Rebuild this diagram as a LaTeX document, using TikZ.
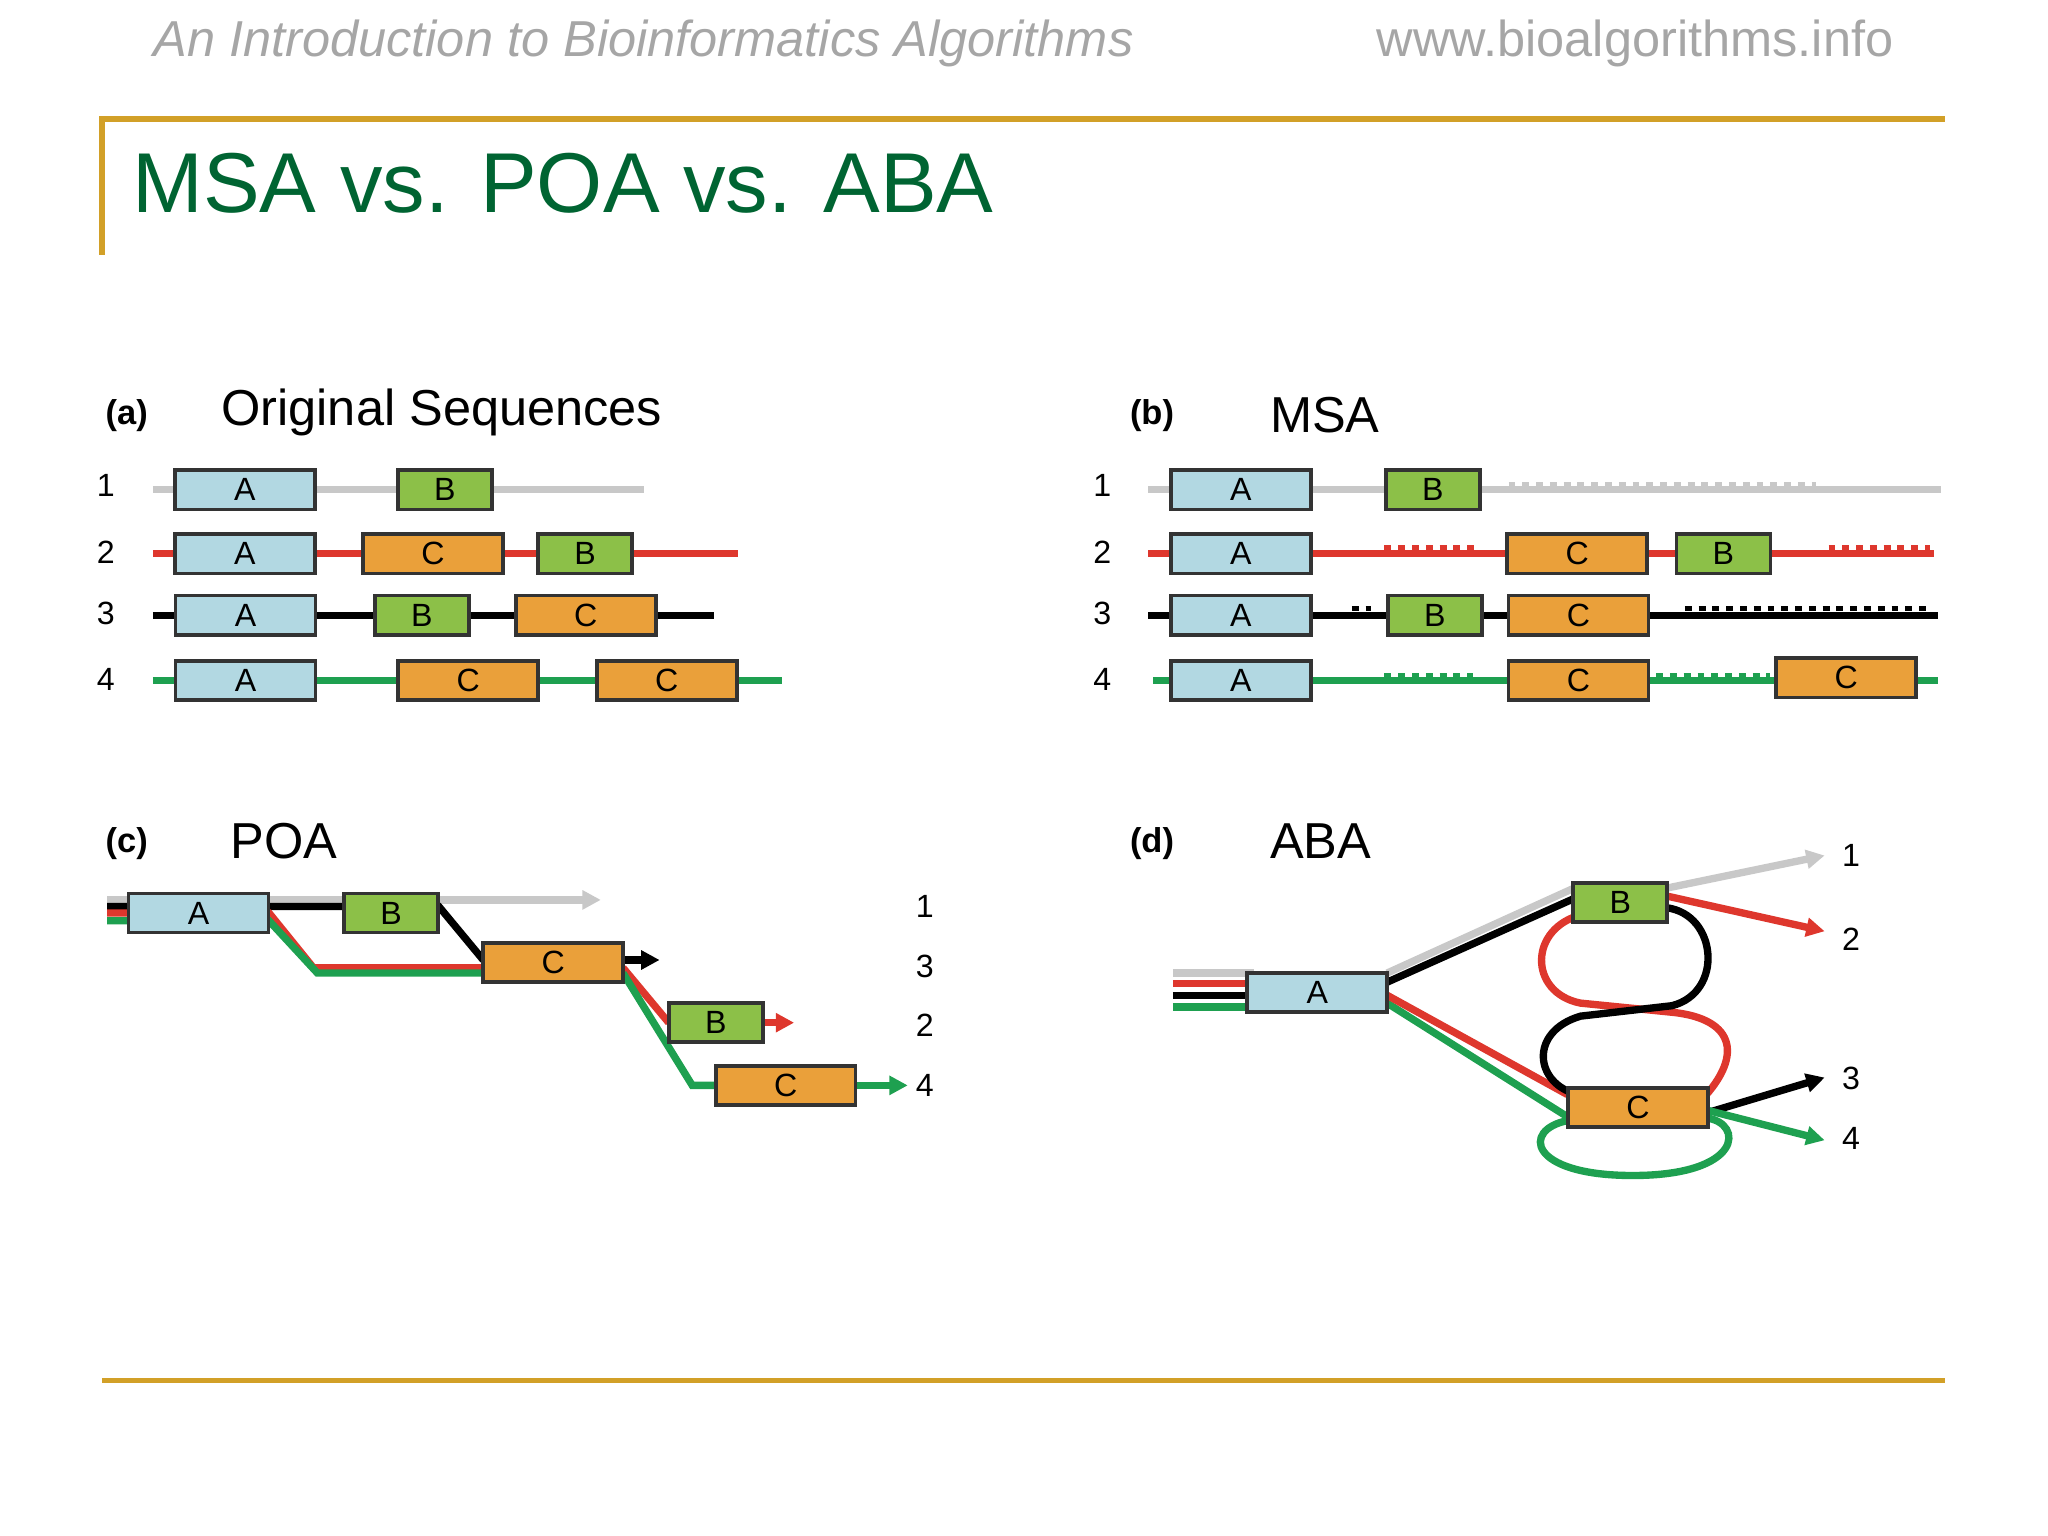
\documentclass[tikz,border=0pt]{standalone}
\usepackage{fontspec}
\setmainfont{Liberation Sans}
\usetikzlibrary{arrows.meta}
\definecolor{cA}{RGB}{178,216,226}
\definecolor{cB}{RGB}{140,192,72}
\definecolor{cC}{RGB}{234,160,58}
\definecolor{lr}{RGB}{222,55,45}
\definecolor{lg}{RGB}{30,160,80}
\definecolor{lgr}{RGB}{200,200,200}
\definecolor{ttl}{RGB}{0,100,50}
\definecolor{gold}{RGB}{210,160,40}
\tikzset{
 box/.style={draw=black!80,line width=0.8pt,minimum height=0.3cm,inner sep=0pt,font=\fontsize{7}{7}\selectfont},
 bA/.style={box,fill=cA,minimum width=1.07cm},
 bB/.style={box,fill=cB,minimum width=0.72cm},
 bC/.style={box,fill=cC,minimum width=1.07cm},
 ln/.style={line width=1.6pt},
 dt/.style={line width=1.2pt,dash pattern=on 1.5pt off 1.5pt},
 num/.style={font=\fontsize{7}{7}\selectfont},
 pl/.style={font=\bfseries\fontsize{7.5}{8}\selectfont},
 hd/.style={font=\fontsize{11}{11}\selectfont},
 ar/.style={-{Triangle[length=4pt,width=4pt]}}
}
\begin{document}
\begin{tikzpicture}[x=0.01cm,y=-0.01cm]
\useasboundingbox (0,0) rectangle (1568,1176);
% header
\node[anchor=west,text=black!35,font=\itshape\fontsize{11}{12}\selectfont] (h1) at (105,33) {An Introduction to Bioinformatics Algorithms};
\node[anchor=east,text=black!35,font=\fontsize{11}{12}\selectfont] (h2) at (1462,33) {www.bioalgorithms.info};
\draw[gold,line width=1.2pt] (78,195) -- (78,91) -- (1489,91);
\draw[gold,line width=1.2pt] (78,1057) -- (1489,1057);
\node[anchor=west,text=ttl,font=\fontsize{18.5}{19}\selectfont] (t) at (89,140) {MSA vs. POA vs. ABA};
% panel labels
\node[pl] (la) at (97,318) {(a)}; \node[hd,anchor=west] (ha) at (157,316) {Original Sequences};
\node[pl] (lb) at (882,318) {(b)}; \node[hd,anchor=west] (hb) at (960,318) {MSA};
\node[pl] (lc) at (97,646) {(c)}; \node[hd,anchor=west] (hc) at (164,644) {POA};
\node[pl] (ld) at (882,646) {(d)}; \node[hd,anchor=west] (hd) at (960,644) {ABA};
% (a)
\foreach \n/\y in {1/372,2/423,3/470,4/520}{\node[num] (an\n) at (81,\y) {\n}; \node[num] (bn\n) at (844,\y) {\n};}
\draw[ln,lgr] (117,375) -- (493,375);
\draw[ln,lr] (117,424) -- (565,424);
\draw[ln,black] (117,471) -- (547,471);
\draw[ln,lg] (117,521) -- (599,521);
\node[bA] (a1A) at (187.5,375) {A}; \node[bB] (a1B) at (340.5,375) {B};
\node[bA] (a2A) at (187.5,424) {A}; \node[bC] (a2C) at (331.5,424) {C}; \node[bB] (a2B) at (448,424) {B};
\node[bA] (a3A) at (188,471) {A}; \node[bB] (a3B) at (323,471) {B}; \node[bC] (a3C) at (448.5,471) {C};
\node[bA] (a4A) at (188,521) {A}; \node[bC] (a4C) at (358.5,521) {C}; \node[bC] (a4D) at (510.5,521) {C};
% (b)
\draw[ln,lgr] (879,375) -- (1486,375);
\draw[ln,lr] (879,424) -- (1481,424);
\draw[ln,black] (879,471) -- (1484,471);
\draw[ln,lg] (883,521) -- (1484,521);
\draw[dt,lgr] (1155,371) -- (1390,371);
\draw[dt,lr] (1060,419) -- (1130,419); \draw[dt,lr] (1400,419) -- (1478,419);
\draw[dt,black] (1035,466) -- (1050,466); \draw[dt,black] (1290,466) -- (1478,466);
\draw[dt,lg] (1060,517) -- (1128,517); \draw[dt,lg] (1268,517) -- (1355,517);
\node[bA] (b1A) at (950,375) {A}; \node[bB] (b1B) at (1097,375) {B};
\node[bA] (b2A) at (950,424) {A}; \node[bC] (b2C) at (1207.5,424) {C}; \node[bB] (b2B) at (1319.5,424) {B};
\node[bA] (b3A) at (950,471) {A}; \node[bB] (b3B) at (1098.5,471) {B}; \node[bC] (b3C) at (1208.5,471) {C};
\node[bA] (b4A) at (950,521) {A}; \node[bC] (b4C) at (1208.5,521) {C}; \node[bC] (b4D) at (1413.5,519) {C};
% (c)
\coordinate (c1) at (460,689); \coordinate (c3) at (505,735); \coordinate (c2) at (608,783); \coordinate (c4) at (695,831);
\draw[ln,lgr,ar] (82,689) -- (c1);
\draw[ln,black] (82,694) -- (263,694) -- (336,694) -- (370,735);
\draw[ln,black,ar] (477,735) -- (c3);
\draw[ln,lr] (82,699) -- (206,699) -- (240,741) -- (370,741);
\draw[ln,lr] (477,741) -- (512,783);
\draw[ln,lr,ar] (584,783) -- (c2);
\draw[ln,lg] (82,705) -- (206,705) -- (243,745) -- (370,745);
\draw[ln,lg] (477,745) -- (530,831) -- (548,831);
\draw[ln,lg,ar] (655,831) -- (c4);
\node[bA] (cA) at (152,699) {A}; \node[bB] (cB) at (299.5,699) {B};
\node[bC] (cC) at (423.5,737) {C}; \node[bB] (cB2) at (548,783) {B}; \node[bC] (cC2) at (601.5,831) {C};
\node[num] (cl1) at (708,694) {1}; \node[num] (cl3) at (708,740) {3};
\node[num] (cl2) at (708,785) {2}; \node[num] (cl4) at (708,831) {4};
% (d)
\coordinate (d1) at (1397,655); \coordinate (d2) at (1397,713); \coordinate (d3) at (1397,825); \coordinate (d4) at (1397,873);
\draw[ln,lgr] (898,745) -- (960,745);
\draw[ln,lgr] (1062,745) -- (1205,680);
\draw[ln,lgr,ar] (1276,680) -- (d1);
\draw[ln,lr] (898,753) -- (960,753);
\draw[ln,black] (898,762) -- (960,762);
\draw[ln,lg] (898,771) -- (960,771);
\draw[ln,lg] (1062,768) -- (1200,855);
\draw[ln,lr] (1062,762) -- (1200,838);
\draw[ln,black] (1062,752) -- (1205,688);
\draw[ln,lr,ar] (1276,686) -- (d2);
\draw[ln,lr] (1300,845) .. controls (1335,810) and (1330,780) .. (1280,775) -- (1210,768) .. controls (1170,760) and (1170,710) .. (1212,700);
\draw[ln,black] (1276,695) .. controls (1315,700) and (1320,760) .. (1280,770) -- (1210,778) .. controls (1170,790) and (1175,830) .. (1208,838);
\draw[ln,black,ar] (1307,852) -- (d3);
\draw[ln,lg] (1200,858) .. controls (1165,865) and (1170,900) .. (1250,900) .. controls (1335,900) and (1335,860) .. (1307,856);
\draw[ln,lg,ar] (1307,850) -- (d4);
\node[bA] (dA) at (1008.5,760) {A}; \node[bB] (dB) at (1240.5,691) {B}; \node[bC] (dC) at (1254,848) {C};
\node[num,anchor=west] (dl1) at (1398,655) {1}; \node[num,anchor=west] (dl2) at (1398,719) {2};
\node[num,anchor=west] (dl3) at (1398,826) {3}; \node[num,anchor=west] (dl4) at (1398,872) {4};
\end{tikzpicture}
\end{document}
